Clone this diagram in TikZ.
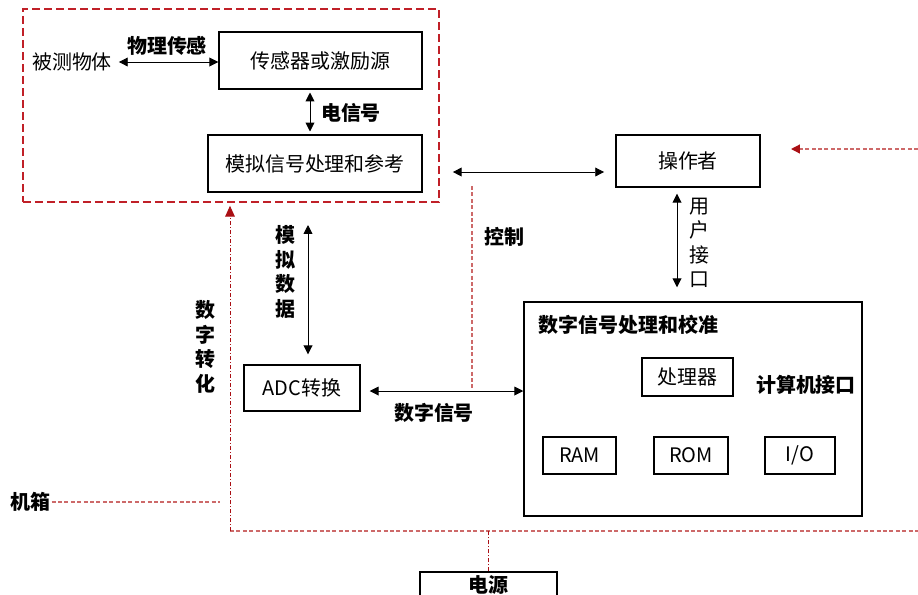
\documentclass[tikz,border=0pt]{standalone}
\usepackage{fontspec}
\setmainfont{Noto Sans CJK SC}
\usetikzlibrary{arrows.meta}
\definecolor{framered}{RGB}{192,32,40}
\definecolor{casered}{RGB}{205,105,105}
\definecolor{tipred}{RGB}{170,15,20}
\tikzset{
  blk/.style={draw, line width=1pt, inner sep=0pt},
  lbl/.style={font=\fontsize{14.2}{17.4}\selectfont\bfseries, inner sep=1pt},
  vlbl/.style={lbl, align=center},
  dbl/.style={line width=0.6pt, {Triangle[length=0.22cm,width=0.22cm]}-{Triangle[length=0.22cm,width=0.22cm]}},
  caseline/.style={casered, line width=0.9pt, dash pattern=on 0.1cm off 0.06cm},
  feedline/.style={tipred, line width=0.7pt, dash pattern=on 0.1cm off 0.05cm on 0.025cm off 0.05cm}
}
\begin{document}
\begin{tikzpicture}[x=0.025cm, y=-0.025cm, font=\fontsize{14.2}{17.4}\selectfont]
        \useasboundingbox (0,0) rectangle (918,594);

        % front end
        \node[draw=framered, line width=1.4pt, dash pattern=on 0.2cm off 0.1cm, minimum width=10.4cm, minimum height=4.825cm] (frontend) at (231,105.5) {};
        \node[blk, minimum width=5.075cm, minimum height=1.425cm] (sensor) at (320.5,60.5) {传感器或激励源};
        \node[blk, minimum width=5.35cm, minimum height=1.425cm] (anlg) at (315,163.5) {模拟信号处理和参考};
        \node (obj) at (72,62) {被测物体};
        \node[lbl] (phys) at (167,46) {物理传感};
        \node[lbl] (elec) at (351,113) {电信号};

        % operator
        \node[blk, minimum width=3.6cm, minimum height=1.3cm] (oper) at (688,161) {操作者};
        \node[vlbl, font=\fontsize{14.2}{17.4}\selectfont] (uif) at (699,243) {用\\户\\接\\口};
        \node[lbl] (ctl) at (504,237) {控制};

        % conversion
        \node[blk, minimum width=2.9cm, minimum height=1.15cm] (adc) at (302,388) {ADC转换};
        \node[vlbl] (adata) at (285,272) {模\\拟\\数\\据};
        \node[vlbl] (dconv) at (205,347) {数\\字\\转\\化};
        \node[lbl] (dsig) at (434,413) {数字信号};

        % digital part
        \node[blk, minimum width=8.45cm, minimum height=5.35cm] (dsp) at (693,409) {};
        \node[lbl, anchor=west] (dsptitle) at (537,325) {数字信号处理和校准};
        \node[blk, minimum width=2.275cm, minimum height=0.95cm] (cpu) at (687.5,377) {处理器};
        \node[lbl] (ciface) at (806,385) {计算机接口};
        \node[blk, minimum width=1.825cm, minimum height=0.925cm] (ram) at (579.5,455.5) {RAM};
        \node[blk, minimum width=1.85cm, minimum height=0.925cm] (rom) at (691,455.5) {ROM};
        \node[blk, minimum width=1.75cm, minimum height=0.925cm] (io) at (800,455.5) {I/O};

        % chassis and power
        \node[lbl] (chassis) at (30,502) {机箱};
        \node[blk, minimum width=3.425cm, minimum height=0.7cm] (power) at (488.5,586) {};
        \node[lbl] (powertxt) at (488.5,585) {电源};

        \coordinate (ctlarr) at (472,172);
        \coordinate (ctltop) at (472,186);
        \coordinate (ctlbot) at (472,388);
        \coordinate (rin) at (918,149);
        \coordinate (operin) at (791,149);
        \coordinate (cbl) at (230,531);
        \coordinate (cbr) at (918,531);
        \coordinate (chassisend) at (220,502);

        \path[draw,dbl,shorten <=0.05cm] (obj.east) -- (sensor.west |- obj.east);
        \path[draw,dbl,shorten <=0.07cm,shorten >=0.07cm] ([xshift=-0.125cm]anlg.north) -- ([xshift=-0.125cm]anlg.north |- sensor.south);
        \path[draw,dbl,shorten <=0.32cm,shorten >=0.28cm] (frontend.east |- ctlarr) -- (oper.west |- ctlarr);
        \path[draw,dbl,shorten <=0.15cm,shorten >=0.35cm] ([xshift=-0.275cm]oper.south) -- ([xshift=-0.275cm]oper.south |- dsp.north);
        \path[draw,dbl,shorten <=0.25cm,shorten >=0.55cm] ([xshift=0.15cm]adc.north) -- ([xshift=0.15cm]adc.north |- frontend.south);
        \path[draw,dbl,shorten <=0.225cm] ([yshift=-0.075cm]adc.east) -- ([yshift=-0.075cm]adc.east -| dsp.west);

        \path[draw,caseline] (ctltop) -- (ctlbot);
        \path[draw,caseline,-{Triangle[length=0.22cm,width=0.22cm,color=tipred]}] (rin) -- (operin);
        \path[draw,caseline] (cbl) -- (cbr);
        \path[draw,caseline] (chassis.east) -- (chassisend);
        \path[draw,feedline,-{Triangle[length=0.27cm,width=0.24cm]},shorten >=0.07cm] (cbl) -- (frontend.south -| cbl);
        \path[draw,feedline] (power.north) -- (power.north |- cbl);
    \end{tikzpicture}
\end{document}
